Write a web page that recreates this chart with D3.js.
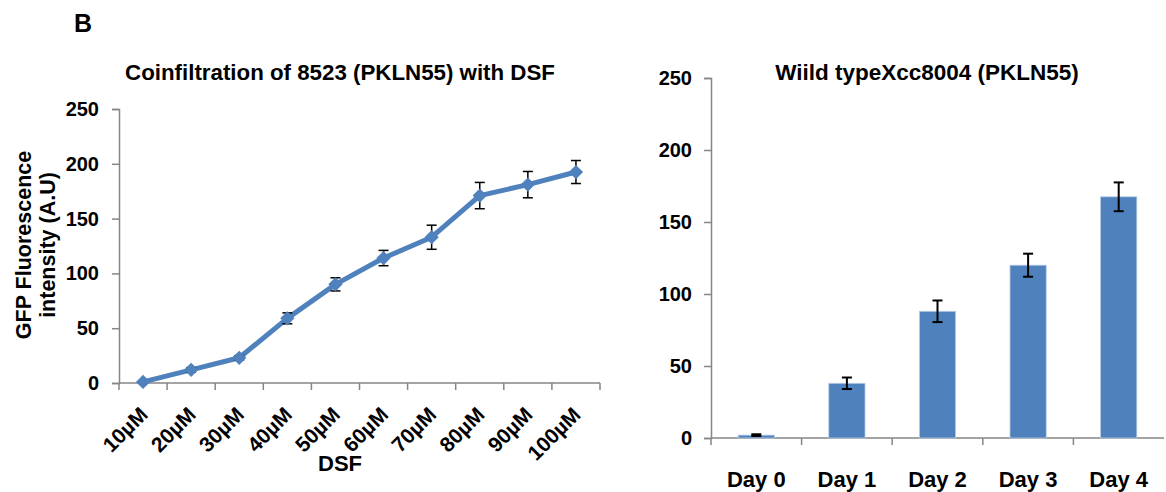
<!DOCTYPE html>
<html>
<head>
<meta charset="utf-8">
<script src="https://cdn.jsdelivr.net/npm/d3@7"></script>
<style>
  body { margin: 0; background: #fff; }
  text { font-family: "Liberation Sans", Arial, sans-serif; font-weight: bold; fill: #000; }
</style>
</head>
<body>
<div id="chart"></div>
<script>
// Panel B, left: DSF dose series
const doses = ["10µM", "20µM", "30µM", "40µM", "50µM", "60µM", "70µM", "80µM", "90µM", "100µM"];
const doseValues = [1, 12, 23, 59, 90, 114, 133, 171, 181, 192.5];
const doseErrors = [1, 2, 2, 5, 6, 7, 11, 12, 12, 10.5];

// Panel B, right: time series
const days = ["Day 0", "Day 1", "Day 2", "Day 3", "Day 4"];
const dayValues = [2, 38, 88, 120, 167.5];
const dayErrors = [0.6, 4, 7.5, 8, 10];

const yTicks = [0, 50, 100, 150, 200, 250];

const blue = "#4F81BD";
const axisGrey = "#868686";

const svg = d3.select("#chart")
    .append("svg")
    .attr("width", 1166)
    .attr("height", 492);

svg.append("text")
    .attr("x", 74).attr("y", 32)
    .style("font-size", "25px")
    .text("B");

// ---------- left chart ----------
const left = { x0: 119, x1: 600, y0: 383, y1: 109 };

const xL = d3.scaleBand().domain(doses).range([left.x0, left.x1]);
const yL = d3.scaleLinear().domain([0, 250]).range([left.y0, left.y1]);

const gL = svg.append("g");

// Y axis
const yAxisL = gL.append("g")
    .attr("transform", `translate(${left.x0},0)`)
    .call(d3.axisLeft(yL).tickValues(yTicks).tickSize(7).tickPadding(13));
yAxisL.selectAll("text").style("font-size", "20px");

// X axis (ticks at band edges)
const xAxisL = gL.append("g").attr("transform", `translate(0,${left.y0})`);
xAxisL.append("line")
    .attr("x1", left.x0).attr("x2", left.x1)
    .attr("stroke", axisGrey).attr("stroke-width", 1.5);
xAxisL.selectAll(".edge")
    .data(doses.concat(["end"]))
    .join("line")
    .attr("class", "edge")
    .attr("x1", (d, i) => left.x0 + i * xL.bandwidth())
    .attr("x2", (d, i) => left.x0 + i * xL.bandwidth())
    .attr("y1", 0).attr("y2", 7)
    .attr("stroke", axisGrey).attr("stroke-width", 1.5);
xAxisL.selectAll(".lbl")
    .data(doses)
    .join("text")
    .attr("class", "lbl")
    .attr("text-anchor", "end")
    .style("font-size", "21px")
    .attr("transform", d => `translate(${xL(d) + xL.bandwidth() / 2 + 6},33) rotate(-45)`)
    .text(d => d);

gL.selectAll(".domain").attr("stroke", axisGrey).attr("stroke-width", 1.5);
gL.selectAll(".tick line").attr("stroke", axisGrey).attr("stroke-width", 1.5);

// Line
const line = d3.line()
    .x((d, i) => xL(doses[i]) + xL.bandwidth() / 2)
    .y(d => yL(d));

gL.append("path")
    .datum(doseValues)
    .attr("fill", "none")
    .attr("stroke", blue)
    .attr("stroke-width", 5)
    .attr("stroke-linejoin", "round")
    .attr("d", line);

// Error bars
const errL = gL.selectAll(".errL")
    .data(doseValues)
    .join("g")
    .attr("class", "errL")
    .attr("transform", (d, i) => `translate(${xL(doses[i]) + xL.bandwidth() / 2},0)`);
errL.append("line")
    .attr("y1", (d, i) => yL(d + doseErrors[i]))
    .attr("y2", (d, i) => yL(d - doseErrors[i]))
    .attr("stroke", "#000").attr("stroke-width", 1.5);
errL.append("line")
    .attr("x1", -5).attr("x2", 5)
    .attr("y1", (d, i) => yL(d + doseErrors[i]))
    .attr("y2", (d, i) => yL(d + doseErrors[i]))
    .attr("stroke", "#000").attr("stroke-width", 1.5);
errL.append("line")
    .attr("x1", -5).attr("x2", 5)
    .attr("y1", (d, i) => yL(d - doseErrors[i]))
    .attr("y2", (d, i) => yL(d - doseErrors[i]))
    .attr("stroke", "#000").attr("stroke-width", 1.5);

// Diamond markers
gL.selectAll(".mk")
    .data(doseValues)
    .join("path")
    .attr("class", "mk")
    .attr("d", d3.symbol().type(d3.symbolDiamond2).size(130))
    .attr("transform", (d, i) => `translate(${xL(doses[i]) + xL.bandwidth() / 2},${yL(d)})`)
    .attr("fill", blue);

// Titles
gL.append("text")
    .attr("x", 340).attr("y", 80)
    .attr("text-anchor", "middle")
    .style("font-size", "22.3px")
    .text("Coinfiltration of 8523 (PKLN55) with DSF");

gL.append("text")
    .attr("x", 340).attr("y", 471)
    .attr("text-anchor", "middle")
    .style("font-size", "22px")
    .text("DSF");

const yTitle = gL.append("text")
    .attr("transform", "translate(0,245) rotate(-90)")
    .attr("text-anchor", "middle")
    .style("font-size", "21.5px");
yTitle.append("tspan").attr("x", 0).attr("y", 31).text("GFP Fluorescence");
yTitle.append("tspan").attr("x", 0).attr("y", 55).text("intensity (A.U)");

// ---------- right chart ----------
const right = { x0: 711, x1: 1164, y0: 438, y1: 78 };

const xRb = d3.scaleBand().domain(days).range([right.x0, right.x1]);
const yR = d3.scaleLinear().domain([0, 250]).range([right.y0, right.y1]);

const gR = svg.append("g");

const yAxisR = gR.append("g")
    .attr("transform", `translate(${right.x0},0)`)
    .call(d3.axisLeft(yR).tickValues(yTicks).tickSize(7).tickPadding(12));
yAxisR.selectAll("text").style("font-size", "20px");

const xAxisR = gR.append("g").attr("transform", `translate(0,${right.y0})`);
xAxisR.append("line")
    .attr("x1", right.x0).attr("x2", right.x1)
    .attr("stroke", axisGrey).attr("stroke-width", 1.5);
xAxisR.selectAll(".edge")
    .data(days)
    .join("line")
    .attr("class", "edge")
    .attr("x1", d => xRb(d)).attr("x2", d => xRb(d))
    .attr("y1", 0).attr("y2", 7)
    .attr("stroke", axisGrey).attr("stroke-width", 1.5);
xAxisR.selectAll(".lbl")
    .data(days)
    .join("text")
    .attr("class", "lbl")
    .attr("x", d => xRb(d) + xRb.bandwidth() / 2)
    .attr("y", 49)
    .attr("text-anchor", "middle")
    .style("font-size", "22px")
    .text(d => d);

gR.selectAll(".domain").attr("stroke", axisGrey).attr("stroke-width", 1.5);
gR.selectAll(".tick line").attr("stroke", axisGrey).attr("stroke-width", 1.5);

gR.selectAll(".bar")
    .data(dayValues)
    .join("rect")
    .attr("class", "bar")
    .attr("x", (d, i) => xRb(days[i]) + xRb.bandwidth() * 0.3)
    .attr("width", xRb.bandwidth() * 0.4)
    .attr("y", d => yR(d))
    .attr("height", d => right.y0 - yR(d))
    .attr("fill", blue)
    .attr("stroke", "#B9CDE5")
    .attr("stroke-width", 0.8);

const errR = gR.selectAll(".errR")
    .data(dayValues)
    .join("g")
    .attr("class", "errR")
    .attr("transform", (d, i) => `translate(${xRb(days[i]) + xRb.bandwidth() / 2},0)`);
errR.append("line")
    .attr("y1", (d, i) => yR(d + dayErrors[i]))
    .attr("y2", (d, i) => yR(d - dayErrors[i]))
    .attr("stroke", "#000").attr("stroke-width", 2);
errR.append("line")
    .attr("x1", -5).attr("x2", 5)
    .attr("y1", (d, i) => yR(d + dayErrors[i]))
    .attr("y2", (d, i) => yR(d + dayErrors[i]))
    .attr("stroke", "#000").attr("stroke-width", 2);
errR.append("line")
    .attr("x1", -5).attr("x2", 5)
    .attr("y1", (d, i) => yR(d - dayErrors[i]))
    .attr("y2", (d, i) => yR(d - dayErrors[i]))
    .attr("stroke", "#000").attr("stroke-width", 2);

gR.append("text")
    .attr("x", 927).attr("y", 80)
    .attr("text-anchor", "middle")
    .style("font-size", "22.5px")
    .text("Wiild typeXcc8004 (PKLN55)");
</script>
</body>
</html>
